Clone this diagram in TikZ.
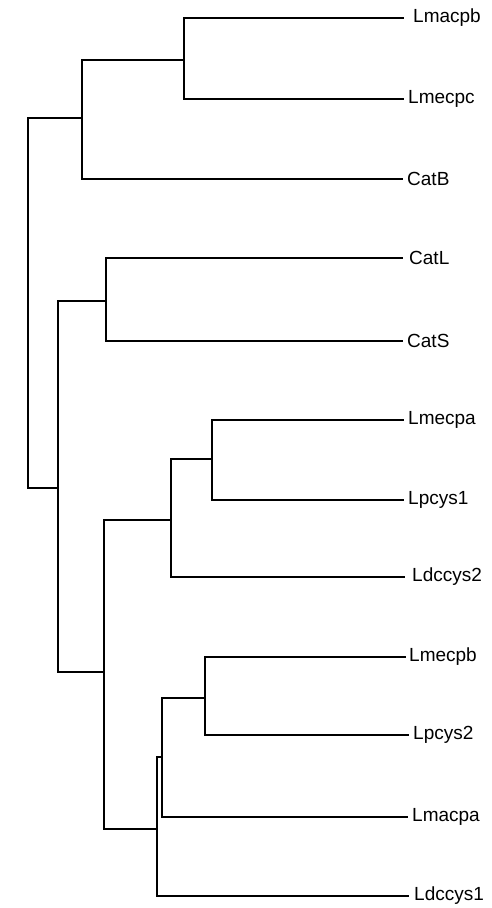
\documentclass[tikz,border=0pt]{standalone}
\usepackage{fontspec}
\setmainfont{Liberation Sans}
\begin{document}
\begin{tikzpicture}[x=1pt,y=-1pt,
  branch/.style={line width=1.9pt,line cap=rect,line join=miter},
  leaf/.style={anchor=west,inner sep=0pt,font=\fontsize{19}{21}\selectfont}]
\useasboundingbox (0,0) rectangle (491,908);
% leaf labels
\node[leaf] (Lmacpb) at (413,18) {Lmacpb};
\node[leaf] (Lmecpc) at (408,99) {Lmecpc};
\node[leaf] (CatB) at (407,179) {CatB};
\node[leaf] (CatL) at (409,258) {CatL};
\node[leaf] (CatS) at (407,341) {CatS};
\node[leaf] (Lmecpa) at (408,420) {Lmecpa};
\node[leaf] (Lpcys1) at (408,500) {Lpcys1};
\node[leaf] (Ldccys2) at (412,577) {Ldccys2};
\node[leaf] (Lmecpb) at (409,657) {Lmecpb};
\node[leaf] (Lpcys2) at (413,735) {Lpcys2};
\node[leaf] (Lmacpa) at (412,817) {Lmacpa};
\node[leaf] (Ldccys1) at (414,896) {Ldccys1};
% leaf tips
\coordinate (tLmacpb) at (403,18);
\coordinate (tLmecpc) at (403,99);
\coordinate (tCatB) at (402,179);
\coordinate (tCatL) at (402,258);
\coordinate (tCatS) at (402,341);
\coordinate (tLmecpa) at (403,420);
\coordinate (tLpcys1) at (403,500);
\coordinate (tLdccys2) at (404,577);
\coordinate (tLmecpb) at (405,657);
\coordinate (tLpcys2) at (408,735);
\coordinate (tLmacpa) at (407,817);
\coordinate (tLdccys1) at (408,896);
% internal nodes
\coordinate (A) at (184,60);
\coordinate (B) at (82,118);
\coordinate (C) at (106,301);
\coordinate (E) at (212,459);
\coordinate (F) at (171,520);
\coordinate (H) at (205,698);
\coordinate (I) at (162,757);
\coordinate (J) at (157,829);
\coordinate (G) at (104,672);
\coordinate (D) at (58,488);
\coordinate (R) at (28,300);
% branches
\draw[branch] (tLmacpb) -| (A) |- (tLmecpc);
\draw[branch] (A) -| (B) |- (tCatB);
\draw[branch] (tCatL) -| (C) |- (tCatS);
\draw[branch] (tLmecpa) -| (E) |- (tLpcys1);
\draw[branch] (E) -| (F) |- (tLdccys2);
\draw[branch] (tLmecpb) -| (H) |- (tLpcys2);
\draw[branch] (H) -| (I) |- (tLmacpa);
\draw[branch] (I) -| (J) |- (tLdccys1);
\draw[branch] (F) -| (G) |- (J);
\draw[branch] (C) -| (D) |- (G);
\draw[branch] (B) -| (R) |- (D);
\end{tikzpicture}
\end{document}
